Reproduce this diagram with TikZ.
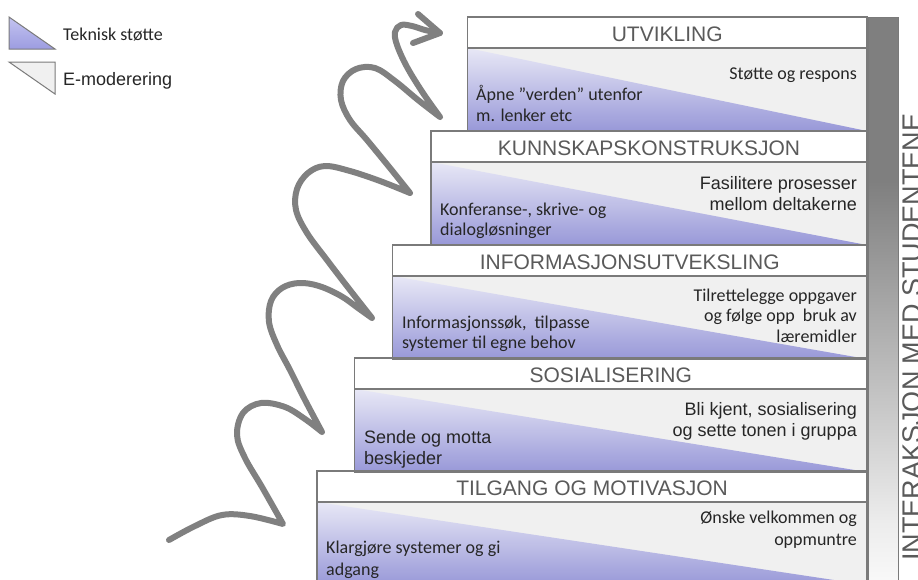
\documentclass[tikz,border=0pt]{standalone}
\usepackage{fontspec}
\setmainfont{Liberation Sans}
\newfontfamily\carl{Carlito}
\newfontfamily\arsans{Liberation Sans}
\definecolor{bordergray}{HTML}{7A7A7A}
\definecolor{titlegray}{HTML}{5A5A5A}
\definecolor{textdark}{HTML}{262626}
\definecolor{emod}{HTML}{F0F0F0}
\definecolor{purpletop}{HTML}{E8E8F6}
\definecolor{purplemid}{HTML}{B4B4E8}
\definecolor{purplebot}{HTML}{9898D8}
\definecolor{legtop}{HTML}{C4C4F0}
\definecolor{legbot}{HTML}{9C9CE0}
\definecolor{squig}{HTML}{808080}
\definecolor{bardark}{HTML}{7F7F7F}
\definecolor{barlight}{HTML}{ECECEC}
\definecolor{barwhite}{HTML}{F8F8F8}
\tikzset{
  boxline/.style={draw=bordergray, line width=1.1pt},
  titletext/.style={anchor=base, font=\arsans\fontsize{21}{24}\selectfont, text=titlegray, inner sep=0pt},
  rtc/.style={anchor=base east, font=\carl\fontsize{18}{21}\selectfont, text=textdark, inner sep=0pt},
  ltc/.style={anchor=base west, font=\carl\fontsize{18}{21}\selectfont, text=textdark, inner sep=0pt},
  rta/.style={anchor=base east, font=\arsans\fontsize{18}{21}\selectfont, text=textdark, inner sep=0pt},
  lta/.style={anchor=base west, font=\arsans\fontsize{18}{21}\selectfont, text=textdark, inner sep=0pt},
  squigline/.style={draw=squig, line width=6pt, line cap=round, line join=round},
}
% #1 left, #2 top, #3 node name, #4 title
\newcommand{\stairstep}[4]{%
  \fill[emod] (#1,#2+31) rectangle (867,#2+114);
  \shade[top color=purpletop, middle color=purplemid, bottom color=purplebot]
    (#1,#2+31) -- (#1,#2+114) -- (867,#2+114) -- cycle;
  \draw[boxline] (#1,#2) rectangle (867,#2+114);
  \draw[boxline] (#1,#2+31) -- (867,#2+31);
  \node[titletext] (#3) at ({(#1+867)/2},#2+24) {#4};
}
\begin{document}
\begin{tikzpicture}[x=1pt,y=-1pt]
\useasboundingbox (0,0) rectangle (918,579);
\clip (0,0) rectangle (918,579);
\fill[white] (0,0) rectangle (918,579);

% legend
\shadedraw[top color=legtop, bottom color=legbot, draw=bordergray, line width=1pt]
  (9,17) -- (9,49) -- (55,49) -- cycle;
\filldraw[fill=emod, draw=bordergray, line width=1pt]
  (9,62) -- (55,62) -- (55,94) -- cycle;
\node[anchor=base west, font=\carl\fontsize{18}{21}\selectfont, text=textdark, inner sep=0pt] (legA) at (63,40) {Teknisk støtte};
\node[anchor=base west, font=\arsans\fontsize{18}{21}\selectfont, text=textdark, inner sep=0pt] (legB) at (63,85) {E-moderering};

% right gray bar
\fill[bardark] (868,17) rectangle (898,182);
\shade[top color=bardark, bottom color=barlight] (868,181) rectangle (898,521);
\shade[top color=barlight, bottom color=barwhite] (868,520) rectangle (898,579);
\draw[draw=bordergray, line width=1pt] (868,17) rectangle (898,585);
\node[rotate=90, anchor=base, font=\arsans\fontsize{27}{30}\selectfont, text=titlegray, inner sep=0pt] (side) at (921.5,337) {INTERAKSJON MED STUDENTENE};

% steps
\stairstep{467.5}{17}{s5}{UTVIKLING}
\stairstep{431}{131}{s4}{KUNNSKAPSKONSTRUKSJON}
\stairstep{392.5}{245}{s3}{INFORMASJONSUTVEKSLING}
\stairstep{354.5}{358}{s2}{SOSIALISERING}
\stairstep{317}{471}{s1}{TILGANG OG MOTIVASJON}

% texts step 5
\node[rtc] (u1) at (857,79) {Støtte og respons};
\node[ltc] (u2) at (476,100) {Åpne ”verden” utenfor};
\node[ltc] (u3) at (476,121) {m. lenker etc};
% step 4
\node[rta] (k1) at (857,189) {Fasilitere prosesser};
\node[rta] (k2) at (857,210) {mellom deltakerne};
\node[ltc] (k3) at (440,215) {Konferanse-, skrive- og};
\node[ltc] (k4) at (440,235) {dialogløsninger};
% step 3
\node[rtc] (i1) at (857,301) {Tilrettelegge oppgaver};
\node[rtc] (i2) at (857,321) {og følge opp\ \ bruk av};
\node[rtc] (i3) at (857,342) {læremidler};
\node[ltc] (i4) at (402,328) {Informasjonssøk,\ \ tilpasse};
\node[ltc] (i5) at (402,348) {systemer til egne behov};
% step 2
\node[rta] (o1) at (857,415) {Bli kjent, sosialisering};
\node[rta] (o2) at (857,436) {og sette tonen i gruppa};
\node[lta] (o3) at (364,443) {Sende og motta};
\node[lta] (o4) at (364,464) {beskjeder};
% step 1
\node[rtc] (g1) at (857,523) {Ønske velkommen og};
\node[rtc] (g2) at (857,545) {oppmuntre};
\node[ltc] (g3) at (326,553) {Klargjøre systemer og gi};
\node[ltc] (g4) at (326,575) {adgang};

% squiggly arrow
\draw[squigline]
  plot[smooth, tension=0.6] coordinates {(169,540) (195,526) (222,515) (250,516) (283,524)}
  -- plot[smooth, tension=0.6] coordinates {(283,524) (262,487) (245,458) (237,435) (243,413) (261,403) (285,407) (305,419) (322,432)}
  -- plot[smooth, tension=0.6] coordinates {(322,432) (305,400) (290,370) (277,345) (269,322) (271,301) (282,288) (299,283) (319,286) (341,296) (358,308) (372,318)}
  -- plot[smooth, tension=0.6] coordinates {(372,318) (350,290) (327,260) (307,233) (296,210) (297,189) (308,173) (325,166) (350,171) (380,181) (410,193)}
  -- plot[smooth, tension=0.6] coordinates {(410,193) (390,168) (367,140) (350,120) (341,100) (343,81) (356,69) (375,68) (395,81) (418,100) (440,117)}
  -- plot[smooth, tension=0.6] coordinates {(440,117) (423,93) (407,67) (397,45) (395,32) (401,25) (412,26) (425,30) (440,33)};
\draw[squigline] (418,14) -- (440,33) -- (413,43);
\end{tikzpicture}
\end{document}
